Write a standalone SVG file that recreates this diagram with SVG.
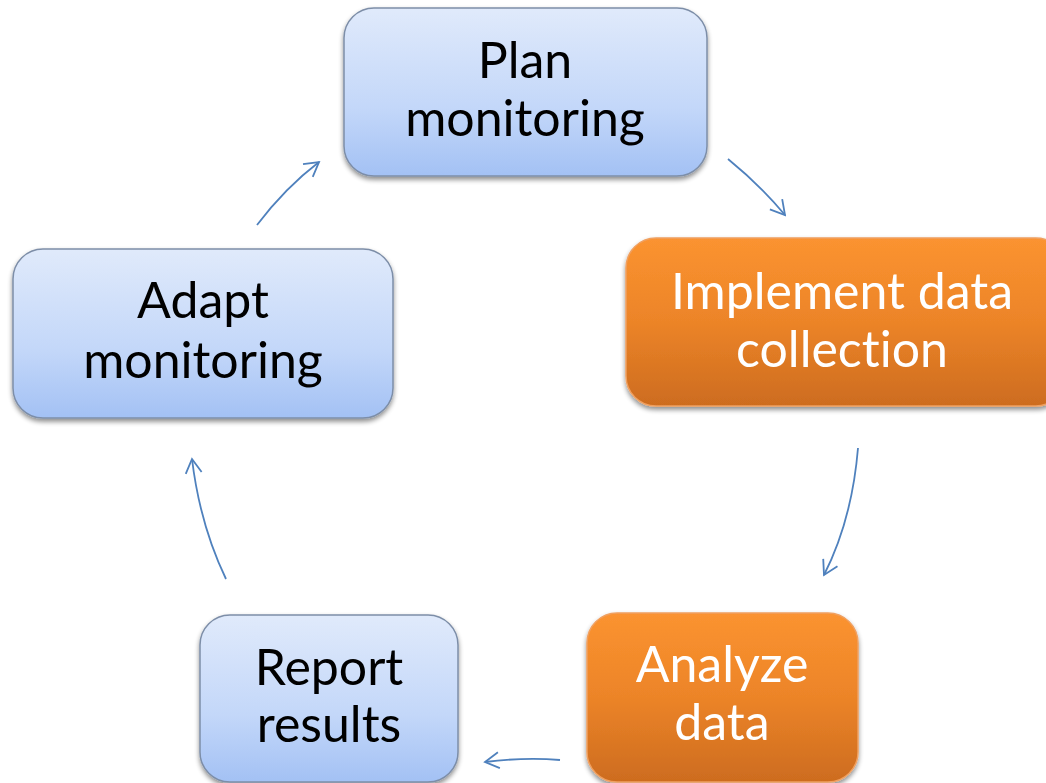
<svg xmlns="http://www.w3.org/2000/svg" width="1046" height="783" viewBox="0 0 1046 783">
<defs>
<linearGradient id="gBlue" x1="0" y1="0" x2="0" y2="1">
<stop offset="0" stop-color="#e0eafb"/>
<stop offset="0.6" stop-color="#c3d7f9"/>
<stop offset="1" stop-color="#a3c1f4"/>
</linearGradient>
<linearGradient id="gOrange" x1="0" y1="0" x2="0" y2="1">
<stop offset="0" stop-color="#fb9330"/>
<stop offset="0.5" stop-color="#ec8428"/>
<stop offset="1" stop-color="#cd6c1f"/>
</linearGradient>
<filter id="sh" x="-10%" y="-10%" width="120%" height="130%">
<feGaussianBlur in="SourceAlpha" stdDeviation="2.5"/>
<feOffset dx="0" dy="3" result="b"/>
<feComponentTransfer><feFuncA type="linear" slope="0.45"/></feComponentTransfer>
<feMerge><feMergeNode/><feMergeNode in="SourceGraphic"/></feMerge>
</filter>
<marker id="ah" viewBox="0 0 20 20" refX="18" refY="10" markerWidth="20" markerHeight="20" markerUnits="userSpaceOnUse" orient="auto">
<path d="M4,2 L18,10 L4,18" fill="none" stroke="#4f81bd" stroke-width="1.8"/>
</marker>
</defs>
<style>
.blue{fill:url(#gBlue);stroke:#7d8ea8;stroke-width:1.5}
.orange{fill:url(#gOrange);stroke:#f0a060;stroke-width:1.5}
.t{font-family:Lato,"Open Sans","Liberation Sans",sans-serif;font-size:50px;text-anchor:middle;font-variant-ligatures:none}
.dk{fill:#000}
.wt{fill:#fff}
.c{fill:none;stroke:#4f81bd;stroke-width:1.8;marker-end:url(#ah)}
</style>
<rect width="1046" height="783" fill="#fff"/>
<g id="connectors">
<path class="c" d="M728,159 Q760,185 785,215"/>
<path class="c" d="M858,448 Q852,520 824,575"/>
<path class="c" d="M560,760 Q525,757 485,762"/>
<path class="c" d="M226,579 Q200,525 192,459"/>
<path class="c" d="M257,225 Q285,188 319,162"/>
</g>
<g id="plan" filter="url(#sh)">
<rect class="blue" x="344" y="8" width="363" height="168" rx="30"/>
<text class="t dk" x="525" y="78">Plan</text>
<text class="t dk" x="525" y="136">monitoring</text>
</g>
<g id="implement" filter="url(#sh)">
<rect class="orange" x="626" y="238" width="440" height="168" rx="30"/>
<text class="t wt" x="842" y="309">Implement data</text>
<text class="t wt" x="842" y="367">collection</text>
</g>
<g id="analyze" filter="url(#sh)">
<rect class="orange" x="587" y="613" width="271" height="169" rx="30"/>
<text class="t wt" x="722" y="682">Analyze</text>
<text class="t wt" x="722" y="740">data</text>
</g>
<g id="report" filter="url(#sh)">
<rect class="blue" x="200" y="615" width="258" height="167" rx="30"/>
<text class="t dk" x="329" y="685">Report</text>
<text class="t dk" x="329" y="742">results</text>
</g>
<g id="adapt" filter="url(#sh)">
<rect class="blue" x="13" y="249" width="380" height="169" rx="30"/>
<text class="t dk" x="203" y="318">Adapt</text>
<text class="t dk" x="203" y="378">monitoring</text>
</g>
</svg>
